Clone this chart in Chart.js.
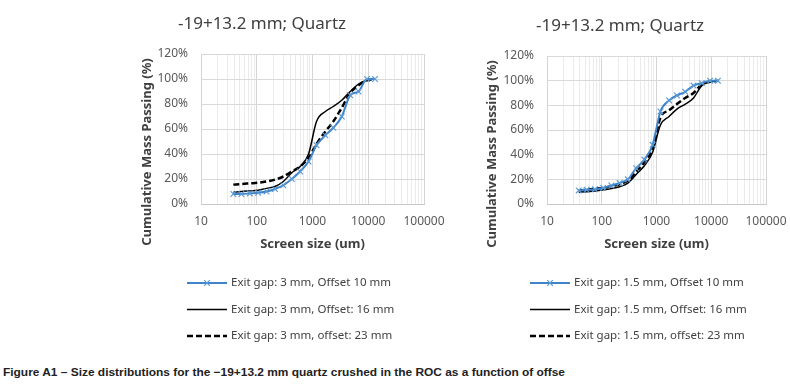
<!DOCTYPE html>
<html>
<head>
<meta charset="utf-8">
<script src="https://cdn.jsdelivr.net/npm/chart.js@4.4.1/dist/chart.umd.min.js"></script>
<style>
  body { margin: 0; background: #fff; width: 790px; height: 385px; position: relative; overflow: hidden; }
  canvas { position: absolute; top: 0; }
  #left { left: 100px; }
  #right { left: 474px; }
  #caption {
    position: absolute; left: 3px; top: 366px; white-space: nowrap;
    font: bold 11px 'Liberation Sans Narrow', 'Liberation Sans', Arial, sans-serif;
    color: #222; transform-origin: 0 0;
  }
</style>
</head>
<body>
<canvas id="left" width="376" height="350"></canvas>
<canvas id="right" width="316" height="350"></canvas>
<div id="caption">Figure A1 – Size distributions for the −19+13.2 mm quartz crushed in the ROC as a function of offse</div>
<script>
// screen sizes (um) and cumulative % passing
const sieveSizes = [38, 53, 75, 106, 150, 212, 300, 425, 600, 850, 1180, 1700, 2360, 3350, 4750, 6700, 9500, 13200];

// exit gap 3 mm
const gap3Off10 = [8, 8, 8.5, 9, 10, 12, 15, 20, 26, 34, 47, 55, 61, 70, 87, 90, 100, 100];
const gap3Off16 = [9.5, 10, 10.5, 11, 12.5, 14, 18, 25, 30, 40, 66, 74, 78, 83, 90, 96, 99, 100];
const gap3Off23 = [15.5, 16, 16.5, 17, 18, 19.5, 22, 26, 30, 37, 48, 58, 66, 77, 89, 95, 99, 100];

// exit gap 1.5 mm
const gap15Off10 = [11, 11.5, 12, 13, 15, 17, 20, 29, 36, 48, 75, 84, 88, 91, 96, 98, 100, 100];
const gap15Off16 = [9.5, 10, 10.5, 11.5, 12.5, 14, 17, 24, 31, 42, 64, 71, 77, 81, 86, 96, 99, 100];
const gap15Off23 = [11, 11.5, 12.5, 13, 14.5, 16, 19, 26, 34, 45, 70, 76, 81, 86, 90, 97, 99, 100];

const leftLabels = ['Exit gap: 3 mm, Offset 10 mm', 'Exit gap: 3 mm, Offset: 16 mm', 'Exit gap: 3 mm, offset: 23 mm'];
const rightLabels = ['Exit gap: 1.5 mm, Offset 10 mm', 'Exit gap: 1.5 mm, Offset: 16 mm', 'Exit gap: 1.5 mm, offset: 23 mm'];

const chartTitle = '-19+13.2 mm; Quartz';
const xTitle = 'Screen size (um)';
const yTitle = 'Cumulative Mass Passing (%)';
const xTickValues = [10, 100, 1000, 10000, 100000];
const xTickLabels = ['10', '100', '1000', '10000', '100000'];
const yTickStep = 20;

const FONT = "'Noto Sans', sans-serif";

// minor grid values 10,20..90,100,200.. up to 100000
const gridValues = [];
for (let d = 10; d <= 10000; d *= 10) {
  for (let k = 1; k < 10; k++) gridValues.push(d * k);
}
gridValues.push(100000);

const seriesStyles = [
  { borderColor: '#3f83c9', borderWidth: 2, pointStyle: 'crossRot', pointRadius: 4, pointBorderWidth: 1.2, pointBorderColor: '#5b9bd5' },
  { borderColor: '#000', borderWidth: 1.5, pointRadius: 0 },
  { borderColor: '#000', borderWidth: 2.5, borderDash: [6, 3], pointRadius: 0 }
];

const extras = {
  id: 'extras',
  afterDraw(chart, args, opts) {
    const ctx = chart.ctx;
    ctx.save();
    ctx.fillStyle = '#404040';
    ctx.font = 'bold 13px ' + FONT;
    ctx.translate(opts.yTitleX, opts.yTitleY);
    ctx.rotate(-Math.PI / 2);
    ctx.textAlign = 'center';
    ctx.textBaseline = 'middle';
    ctx.fillText(yTitle, 0, 0);
    ctx.restore();

    chart.data.datasets.forEach((ds, i) => {
      const y = opts.legendY + i * opts.legendGap;
      const x0 = opts.legendX, x1 = x0 + 40;
      ctx.save();
      ctx.strokeStyle = ds.borderColor;
      ctx.lineWidth = ds.borderWidth;
      ctx.setLineDash(ds.borderDash || []);
      ctx.beginPath();
      ctx.moveTo(x0, y);
      ctx.lineTo(x1, y);
      ctx.stroke();
      ctx.setLineDash([]);
      if (ds.pointRadius) {
        ctx.strokeStyle = ds.pointBorderColor;
        ctx.lineWidth = ds.pointBorderWidth;
        Chart.helpers.drawPoint(ctx, { pointStyle: ds.pointStyle, radius: ds.pointRadius, borderWidth: ds.pointBorderWidth, rotation: 0 }, (x0 + x1) / 2, y);
      }
      ctx.fillStyle = '#404040';
      ctx.font = '11.5px ' + FONT;
      ctx.textBaseline = 'middle';
      ctx.fillText(ds.label, x1 + 4, y);
      ctx.restore();
    });
  }
};

function makeChart(id, labels, series, cfg) {
  return new Chart(document.getElementById(id), {
    type: 'line',
    data: {
      datasets: series.map((vals, i) => Object.assign({
        label: labels[i],
        data: sieveSizes.map((x, j) => ({ x: x, y: vals[j] })),
        fill: false,
        cubicInterpolationMode: 'monotone'
      }, seriesStyles[i]))
    },
    options: {
      responsive: false,
      animation: false,
      layout: { padding: { left: 0, right: cfg.padRight, top: 0, bottom: 94 } },
      plugins: {
        legend: { display: false },
        tooltip: { enabled: false },
        title: {
          display: true, text: chartTitle, color: '#404040',
          font: { family: FONT, size: 17, weight: 'normal' },
          padding: { top: cfg.titleTop, bottom: cfg.titleBottom }
        },
        extras: cfg.extras
      },
      scales: {
        x: {
          type: 'logarithmic', min: 10, max: 100000,
          afterBuildTicks: s => { s.ticks = gridValues.map(v => ({ value: v })); },
          afterFit: s => { s.height = 52; s.paddingLeft = 0; s.paddingRight = 0; },
          ticks: {
            autoSkip: false, maxRotation: 0, padding: 10, color: '#595959',
            font: { family: FONT, size: 12 },
            callback: v => {
              const k = xTickValues.indexOf(v);
              return k >= 0 ? xTickLabels[k] : '';
            }
          },
          grid: {
            drawTicks: false,
            color: c => (c.tick && xTickValues.includes(c.tick.value)) ? '#d4d4d4' : '#ebebeb'
          },
          border: { color: '#c8c8c8' },
          title: {
            display: true, text: xTitle, color: '#404040',
            font: { family: FONT, size: 13, weight: 'bold' },
            padding: { top: 0, bottom: 4 }
          }
        },
        y: {
          min: 0, max: 120,
          afterFit: s => { s.width = cfg.yWidth; s.paddingTop = 0; s.paddingBottom = 0; },
          ticks: {
            stepSize: yTickStep, padding: 13, color: '#595959',
            font: { family: FONT, size: 12 },
            callback: v => v + '%'
          },
          grid: { drawTicks: false, color: '#d9d9d9' },
          border: { display: false }
        }
      }
    },
    plugins: [extras]
  });
}

makeChart('left', leftLabels, [gap3Off10, gap3Off16, gap3Off23], {
  padRight: 52, yWidth: 101, titleTop: 13.8, titleBottom: 19.8,
  extras: { yTitleX: 47, yTitleY: 152, legendX: 87, legendY: 283, legendGap: 26.5 }
});

makeChart('right', rightLabels, [gap15Off10, gap15Off16, gap15Off23], {
  padRight: 24, yWidth: 73, titleTop: 15.8, titleBottom: 19.8,
  extras: { yTitleX: 18, yTitleY: 154, legendX: 56, legendY: 283, legendGap: 26.5 }
});

// squeeze the caption to the width it has in the figure
const cap = document.getElementById('caption');
const w = cap.getBoundingClientRect().width;
cap.style.transform = 'scaleX(' + (562 / w) + ')';
</script>
</body>
</html>
